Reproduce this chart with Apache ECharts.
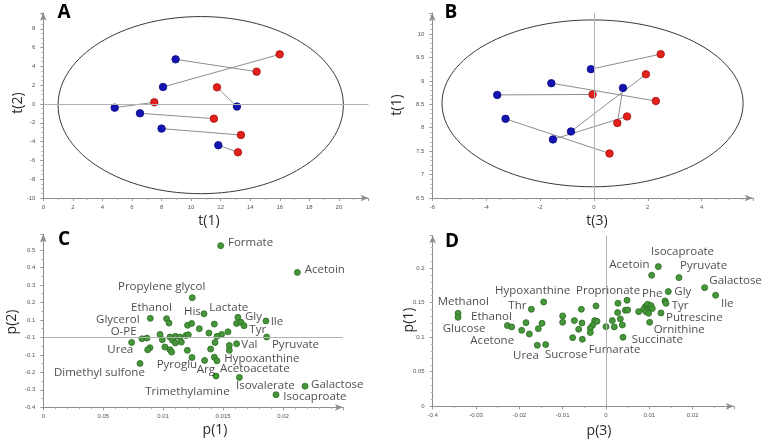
<!DOCTYPE html>
<html><head><meta charset="utf-8">
<script src="https://cdn.jsdelivr.net/npm/echarts@6/dist/echarts.min.js"></script>
<style>html,body{margin:0;padding:0;background:#fff}#c{width:768px;height:445px}</style>
</head><body><div id="c"></div>
<script>
// ---------- Panel A: t(1) vs t(2) ----------
const blueA = [[8.95,4.75],[8.10,1.81],[4.83,-0.39],[6.54,-0.99],[8.00,-2.62],[11.84,-4.39],[13.10,-0.28]];
const redA  = [[14.43,3.44],[15.99,5.28],[7.51,0.18],[11.54,-1.56],[13.37,-3.30],[13.17,-5.14],[11.75,1.77]];
const ellipseA = [10.65,-0.12,9.65,9.42]; // centre x, centre y, radius x, radius y
const xTicksA = ['0','2','4','6','8','10','12','14','16','18','20'];
const yTicksA = ['-10','-8','-6','-4','-2','0','2','4','6','8'];

// ---------- Panel B: t(3) vs t(1) ----------
const blueB = [[-0.11,9.25],[-1.58,8.95],[-3.59,8.70],[-3.28,8.19],[-0.85,7.92],[-1.52,7.75],[1.08,8.85]];
const redB  = [[2.48,9.57],[2.30,8.57],[-0.05,8.71],[0.58,7.45],[1.93,9.14],[1.23,8.24],[0.87,8.10]];
const ellipseB = [-0.05,8.52,5.59,1.78];
const xTicksB = ['-6','-4','-2','0','2','4'];
const yTicksB = ['6.5','7','7.5','8','8.5','9','9.5','10'];

// ---------- Panel C: p(1) vs p(2) ----------
const pointsC = [[0.01480,0.525],[0.02120,0.372],[0.01243,0.227],[0.01341,0.135],[0.00893,0.109],[0.01029,0.107],[0.01049,0.082],[0.01204,0.069],[0.01238,0.080],[0.01302,0.050],[0.01427,0.076],[0.01624,0.115],[0.01613,0.080],[0.01650,0.086],[0.01675,0.067],[0.01858,0.094],[0.01864,0.002],[0.01382,0.025],[0.01541,0.032],[0.01488,0.017],[0.01449,0.006],[0.01433,-0.029],[0.01396,-0.067],[0.01613,-0.036],[0.01552,-0.046],[0.01552,-0.074],[0.01427,-0.113],[0.01449,-0.134],[0.01346,-0.132],[0.01241,-0.115],[0.01202,-0.074],[0.00737,-0.029],[0.00823,-0.008],[0.00865,-0.004],[0.00974,0.017],[0.00993,-0.013],[0.01057,0.002],[0.01102,0.006],[0.01140,0.002],[0.01191,0.011],[0.01210,0.015],[0.01079,-0.017],[0.01152,-0.027],[0.01102,-0.032],[0.01015,-0.055],[0.01057,-0.071],[0.01071,-0.084],[0.00890,-0.059],[0.00871,-0.071],[0.01441,-0.221],[0.00807,-0.149],[0.01636,-0.229],[0.02184,-0.279],[0.01942,-0.328]];
const labelNamesC = ['Formate','Acetoin','Propylene glycol','Ethanol','His','Lactate','Glycerol','Gly','Ile','Tyr','O-PE','Urea','Val','Pyruvate','Hypoxanthine','Pyroglu','Arg','Acetoacetate','Dimethyl sulfone','Isovalerate','Galactose','Trimethylamine','Isocaproate'];
const labelAnchorsC = [[0.01541,0.540],[0.02181,0.385],[0.00623,0.290],[0.00732,0.172],[0.01174,0.147],[0.01385,0.168],[0.00440,0.101],[0.01683,0.118],[0.01897,0.092],[0.01719,0.044],[0.00562,0.032],[0.00534,-0.073],[0.01652,-0.044],[0.01908,-0.044],[0.01510,-0.120],[0.00946,-0.158],[0.01280,-0.187],[0.01474,-0.181],[0.00089,-0.204],[0.01608,-0.275],[0.02234,-0.271],[0.00851,-0.311],[0.02003,-0.342]];
const xTicksC = ['0','0.05','0.01','0.015','0.02'];
const yTicksC = ['-0.4','-0.3','-0.2','-0.1','-0.1','0.1','0.2','0.3','0.4','0.5'];

// ---------- Panel D: p(3) vs p(1) ----------
const pointsD = [[-0.03415,0.1345],[-0.03415,0.1287],[-0.02277,0.1167],[-0.02177,0.1148],[-0.01846,0.1210],[-0.01946,0.1099],[-0.01769,0.1046],[-0.01723,0.1403],[-0.01438,0.1509],[-0.01477,0.1201],[-0.01562,0.1123],[-0.01585,0.0882],[-0.01392,0.0892],[-0.01000,0.1307],[-0.01000,0.1215],[-0.00569,0.1403],[-0.00731,0.1239],[-0.00554,0.1205],[-0.00631,0.1114],[-0.00769,0.0993],[-0.00546,0.0969],[-0.00231,0.1451],[-0.00262,0.1239],[-0.00208,0.1229],[-0.00308,0.1172],[-0.00362,0.1128],[-0.00362,0.1066],[0.00000,0.1152],[0.00146,0.1239],[0.00192,0.1148],[0.00331,0.1263],[0.00377,0.1176],[0.00269,0.1355],[0.00277,0.1490],[0.00485,0.1533],[0.00446,0.1389],[0.00500,0.1393],[0.00392,0.0998],[0.00754,0.1369],[0.00908,0.1442],[0.00962,0.1475],[0.01008,0.1422],[0.01038,0.1456],[0.00869,0.1403],[0.01069,0.1413],[0.00923,0.1369],[0.00985,0.1345],[0.01008,0.1215],[0.01269,0.1350],[0.01362,0.1524],[0.01385,0.1490],[0.01438,0.1659],[0.01054,0.1895],[0.01208,0.2020],[0.01685,0.1861],[0.02277,0.1716],[0.02531,0.1606]];
const labelNamesD = ['Isocaproate','Acetoin','Pyruvate','Galactose','Hypoxanthine','Proprionate','Phe','Gly','Methanol','Thr','Tyr','Ile','Ethanol','Putrescine','Glucose','Ornithine','Acetone','Succinate','Fumarate','Urea','Sucrose'];
const labelAnchorsD = [[0.01038,0.2242],[0.00077,0.2049],[0.01708,0.2040],[0.02385,0.1818],[-0.02562,0.1673],[-0.00692,0.1673],[0.00831,0.1630],[0.01577,0.1663],[-0.03885,0.1509],[-0.02254,0.1451],[0.01515,0.1461],[0.02654,0.1485],[-0.03115,0.1302],[0.01385,0.1278],[-0.03769,0.1123],[0.01100,0.1109],[-0.03131,0.0950],[0.00592,0.0960],[-0.00400,0.0824],[-0.02146,0.0738],[-0.01408,0.0752]];
const xTicksD = ['-0.4','-0.03','-0.02','-0.01','0','0.01','0.02'];
const yTicksD = ['0','0.05','0.1','0.15','0.2'];

const FONT = "'Liberation Sans', Arial, sans-serif";
const LFONT = "'Open Sans', 'Noto Sans', sans-serif";
const BLUE = '#1414b2', RED = '#e2201c', GREEN = '#45973a', GREEN_EDGE = '#2b6b22';

function fmt(labels, min, interval) {
  return function (v) {
    const k = Math.round((v - min) / interval);
    if (Math.abs(v - (min + k * interval)) > interval * 1e-3) return '';
    return labels[k] !== undefined ? labels[k] : '';
  };
}
function axis(grid, min, max, interval, labels, minorSplit, margin) {
  return {
    type: 'value', gridIndex: grid, min: min, max: max, interval: interval,
    axisLine: { show: true, onZero: false, symbol: ['none', 'arrow'], symbolSize: [5, 8], lineStyle: { color: '#8c8c8c', width: 1 } },
    axisTick: { show: true, length: 3, lineStyle: { color: '#9a9a9a' } },
    minorTick: { show: true, splitNumber: minorSplit, length: 2, lineStyle: { color: '#b4b4b4' } },
    splitLine: { show: false }, minorSplitLine: { show: false },
    axisLabel: { show: true, fontSize: 6, color: '#555', fontFamily: FONT, margin: margin, formatter: fmt(labels, min, interval) }
  };
}
function ellipseSeries(idx, e, markData) {
  return {
    type: 'custom', xAxisIndex: idx, yAxisIndex: idx, clip: false, silent: true, z: 1,
    data: [e],
    renderItem: function (params, api) {
      const c = api.coord([api.value(0), api.value(1)]);
      const s = api.size([api.value(2), api.value(3)]);
      return { type: 'ellipse', shape: { cx: c[0], cy: c[1], rx: s[0], ry: s[1] },
        style: { fill: null, stroke: '#3a3a3a', lineWidth: 1 } };
    },
    markLine: { silent: true, symbol: ['none', 'none'], label: { show: false },
      lineStyle: { color: '#b3b3b3', type: 'solid', width: 1 }, data: markData }
  };
}
function zeroLine(idx, markData) {
  return { type: 'scatter', xAxisIndex: idx, yAxisIndex: idx, data: [], z: 1, silent: true,
    markLine: { silent: true, symbol: ['none', 'none'], label: { show: false },
      lineStyle: { color: '#b3b3b3', type: 'solid', width: 1 }, data: markData } };
}
function pairLines(idx, blue, red) {
  return { type: 'lines', coordinateSystem: 'cartesian2d', xAxisIndex: idx, yAxisIndex: idx, z: 2, silent: true,
    lineStyle: { color: '#8e8e8e', width: 1, opacity: 1 },
    data: blue.map(function (b, i) { return { coords: [b, red[i]] }; }) };
}
function dots(idx, data, color, edge, size) {
  return { type: 'scatter', xAxisIndex: idx, yAxisIndex: idx, z: 3, symbolSize: size, data: data,
    itemStyle: { color: color, borderColor: edge, borderWidth: 0.8, opacity: 1 } };
}
function labels(idx, names, anchors) {
  return { type: 'scatter', xAxisIndex: idx, yAxisIndex: idx, z: 4, symbolSize: 0, silent: true,
    data: names.map(function (n, i) { return { name: n, value: anchors[i] }; }),
    itemStyle: { color: 'rgba(0,0,0,0)' },
    label: { show: true, position: 'right', distance: 0, formatter: '{b}', fontSize: 11.5, color: '#1c1c1c', fontFamily: LFONT } };
}
function txt(x, y, s, opt) {
  return { type: 'text', x: x, y: y, style: Object.assign({ text: s, fill: '#2a2a2a', font: "14px 'Open Sans', sans-serif", textAlign: 'center', textVerticalAlign: 'middle' }, opt || {}) };
}
const BOLD = "bold 19px 'Open Sans', sans-serif";

const chart = echarts.init(document.getElementById('c'), null, { renderer: 'canvas' });
chart.setOption({
  animation: false,
  backgroundColor: '#fff',
  grid: [
    { left: 43.3, top: 12.8, width: 325.2, height: 185.2 },
    { left: 432.3, top: 12.9, width: 320.5, height: 185.1 },
    { left: 43.3, top: 234.3, width: 299.6, height: 173.0 },
    { left: 432.7, top: 235.5, width: 301.1, height: 170.8 }
  ],
  xAxis: [
    axis(0, 0, 22, 2, xTicksA, 2, 6),
    axis(1, -6, 5.9, 2, xTicksB, 4, 6),
    axis(2, 0, 0.025, 0.005, xTicksC, 5, 6),
    axis(3, -0.04, 0.0295, 0.01, xTicksD, 2, 6)
  ],
  yAxis: [
    axis(0, -10, 9.7, 2, yTicksA, 4, 8),
    axis(1, 6.5, 10.45, 0.5, yTicksB, 5, 8),
    axis(2, -0.4, 0.59, 0.1, yTicksC, 2, 8),
    axis(3, 0, 0.247, 0.05, yTicksD, 5, 8)
  ],
  series: [
    ellipseSeries(0, ellipseA, [{ yAxis: 0 }]),
    pairLines(0, blueA, redA),
    dots(0, blueA, BLUE, '#0a0a80', 7.5),
    dots(0, redA, RED, '#a81010', 7.5),

    ellipseSeries(1, ellipseB, [{ xAxis: 0 }]),
    pairLines(1, blueB, redB),
    dots(1, blueB, BLUE, '#0a0a80', 7.5),
    dots(1, redB, RED, '#a81010', 7.5),

    zeroLine(2, [{ yAxis: 0 }]),
    dots(2, pointsC, GREEN, GREEN_EDGE, 6),
    labels(2, labelNamesC, labelAnchorsC),

    zeroLine(3, [{ xAxis: 0 }]),
    dots(3, pointsD, GREEN, GREEN_EDGE, 6),
    labels(3, labelNamesD, labelAnchorsD)
  ],
  graphic: [
    txt(64, 13, 'A', { fill: '#000', font: BOLD }),
    txt(451, 13, 'B', { fill: '#000', font: BOLD }),
    txt(64, 240, 'C', { fill: '#000', font: BOLD }),
    txt(452, 242, 'D', { fill: '#000', font: BOLD }),
    txt(209, 221, 't(1)'),
    txt(597, 221, 't(3)'),
    txt(215, 430, 'p(1)'),
    txt(599, 431, 'p(3)'),
    Object.assign(txt(18, 103, 't(2)'), { rotation: Math.PI / 2 }),
    Object.assign(txt(397, 105, 't(1)'), { rotation: Math.PI / 2 }),
    Object.assign(txt(12, 322, 'p(2)'), { rotation: Math.PI / 2 }),
    Object.assign(txt(409, 320, 'p(1)'), { rotation: Math.PI / 2 })
  ]
});
</script>
</body></html>
